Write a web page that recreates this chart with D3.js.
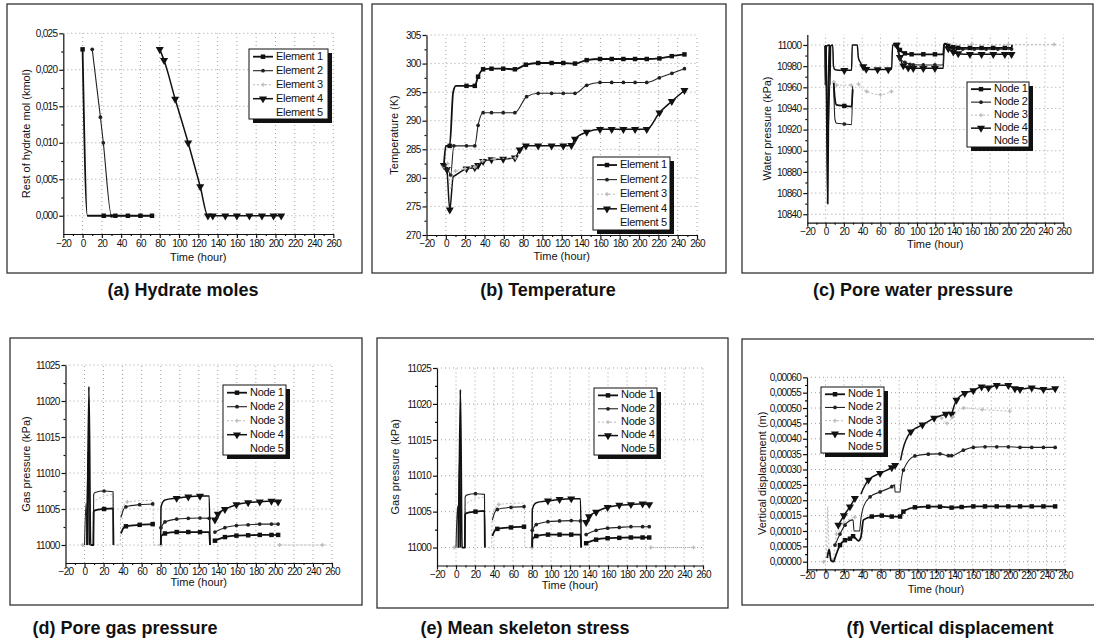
<!DOCTYPE html>
<html lang="en">
<head>
  <meta charset="UTF-8">
  <title>Hydrate dissociation results</title>
  <style>
    body { margin: 0; background: #fff; }
    svg { display: block; }
  </style>
</head>
<body>
  <svg id="svg" width="1094" height="644"></svg>

  <script src="https://d3js.org/d3.v7.min.js"></script>
  <script>
    // ---- axis ticks ----
    const timeTicks = [-20, 0, 20, 40, 60, 80, 100, 120, 140, 160, 180, 200, 220, 240, 260]
    const timeMinor = [-10, 10, 30, 50, 70, 90, 110, 130, 150, 170, 190, 210, 230, 250]
    const hydrateTicks = [0, 0.005, 0.01, 0.015, 0.02, 0.025]
    const hydrateMinor = [0.0025, 0.0075, 0.0125, 0.0175, 0.0225]
    const tempTicks = [270, 275, 280, 285, 290, 295, 300, 305]
    const tempMinor = [272.5, 277.5, 282.5, 287.5, 292.5, 297.5, 302.5]
    const waterTicks = [10840, 10860, 10880, 10900, 10920, 10940, 10960, 10980, 11000]
    const waterMinor = [10850, 10870, 10890, 10910, 10930, 10950, 10970, 10990]
    const gasTicks = [11000, 11005, 11010, 11015, 11020, 11025]
    const gasMinor = [11002.5, 11007.5, 11012.5, 11017.5, 11022.5]
    const dispTicks = [0, 0.00005, 0.0001, 0.00015, 0.0002, 0.00025, 0.0003, 0.00035, 0.0004, 0.00045, 0.0005, 0.00055, 0.0006]
    const dispMinor = [0.000025, 0.000075, 0.000125, 0.000175, 0.000225, 0.000275, 0.000325, 0.000375, 0.000425, 0.000475, 0.000525, 0.000575]

    const elementNames = ['Element 1', 'Element 2', 'Element 3', 'Element 4', 'Element 5']
    const nodeNames = ['Node 1', 'Node 2', 'Node 3', 'Node 4', 'Node 5']

    // ---- (a) rest of hydrate mol, [hour, kmol] ----
    const hydE1 = [[0, 0.0228], [5, 0], [7, 0], [22, 0], [34, 0], [47, 0], [60, 0], [72, 0]]
    const hydE2 = [[10, 0.0228], [18.5, 0.0135], [21.5, 0.01], [30, 0], [34, 0], [47, 0], [60, 0], [72, 0]]
    const hydE3 = []
    const hydE4 = [[80, 0.0228], [84.5, 0.0213], [96, 0.016], [109.5, 0.01], [122, 0.004], [130, 0], [135, 0], [148, 0], [160, 0], [173, 0], [186, 0], [198, 0], [206, 0]]
    const hydE5 = []

    // ---- (b) temperature, [hour, K] ----
    const tempE1 = [[-2, 282.2], [0, 285.6], [4, 285.6], [7.6, 295], [10.4, 296.1], [21.4, 296.1], [30, 296.1], [33.4, 297.7], [38.6, 299], [47.3, 299.1], [59.4, 299.1], [71.5, 299], [82.9, 299.8], [95.6, 300.1], [109.5, 300.1], [121.6, 300.1], [133.7, 300], [145.8, 300.6], [159.6, 300.8], [171.7, 300.8], [183.8, 300.8], [195.9, 300.8], [208, 300.8], [221.1, 300.9], [233.9, 301.3], [247, 301.6]]
    const tempE2 = [[-2, 282.2], [2, 281.5], [5, 280.5], [8.3, 285.6], [21.4, 285.6], [30, 285.6], [33.4, 289.2], [38.6, 291.4], [47.3, 291.4], [59.4, 291.4], [71.5, 291.4], [83.6, 294.2], [95.6, 294.8], [109.5, 294.8], [121.6, 294.8], [133.7, 294.8], [145.8, 296.2], [159.6, 296.7], [171.7, 296.7], [183.8, 296.7], [195.9, 296.7], [208, 296.7], [221, 297.5], [234, 298.3], [247, 299.1]]
    const tempE3 = [[-2, 282], [2, 282.5], [5, 278], [7, 280.5], [10, 281.2], [20, 281.6], [30, 281.9], [38, 283], [50, 283.3], [72, 283.5]]
    const tempE4 = [[-2, 282.2], [1, 281.5], [4.1, 274.4], [7.6, 280.2], [10.4, 280.5], [21.4, 281.6], [30, 281.8], [33.4, 282.2], [38.6, 282.9], [47.3, 283.2], [59.4, 283.3], [71.5, 283.5], [76.5, 284.9], [82.9, 285.6], [95.6, 285.6], [109.5, 285.6], [121.6, 285.6], [130, 285.7], [133.7, 286.8], [145.8, 288], [159.6, 288.5], [171.7, 288.5], [183.8, 288.5], [195.9, 288.5], [208, 288.5], [221.1, 291.4], [233.9, 293.4], [247, 295.3]]
    const tempE5 = []

    // ---- (c) pore water pressure, [hour, kPa] ----
    const waterN1 = [[0, 11000], [1, 10962], [2.3, 10850], [3.3, 10962], [4.2, 11000], null,
      [8.9, 10964], [10.2, 10949], [12, 10943.3], [20.5, 10942.4], [28.4, 10941.8], [29.6, 10958], null,
      [77.7, 11000], [81.3, 10995.3], [86.8, 10992.1], [94.1, 10991.2], [106.9, 10991.2], [119.6, 10991.2], [128.7, 10991.2], [129.5, 11000],
      [130.6, 11001.3], [134.2, 10999.1], [139.7, 10997.9], [145.1, 10997.3], [157.9, 10997.2], [170.6, 10997.2], [183.4, 10997.2], [196.1, 10997.2], [203.4, 10997.2], [204, 11000]]
    const waterN2 = [[0.5, 11000], [1.8, 10905], [3, 10920], [4.5, 10962], null,
      [8.9, 10961], [10.2, 10930], [12, 10926], [20.5, 10925.3], [28.4, 10924.7], [29.6, 10961], null,
      [77.7, 11000], [81.3, 10987.2], [86.8, 10983.6], [92.3, 10981.7], [95.9, 10981.2], [106.9, 10981.1], [119.6, 10981.1], [128.7, 10981.1], [129.5, 11000],
      [130.6, 11001.3], [134.2, 10997.8], [139.7, 10996.2], [150, 10996.1], [162.8, 10996.1], [175.6, 10996.1], [188.4, 10996.1], [203.4, 10996.1]]
    const waterN3 = [[9, 10965], [12, 10962], [28, 10962], null,
      [36, 10963], [45, 10956], [60, 10953], [72, 10956], null,
      [133, 11001], [160, 11000.5], [200, 11000.5], [250, 11000.5]]
    const waterN4 = [[-0.7, 10999], [-0.5, 10962], [1, 10999], [4.5, 11000], [4.8, 10962], [5.5, 10999], [7.8, 11000],
      [8.6, 10980], [10, 10977], [12, 10976.4], [20.5, 10976.1], [28.4, 10976], [29.2, 11000], [34.7, 11000],
      [35.8, 10988.3], [37.6, 10984.2], [41.2, 10979.6], [44.4, 10977.1], [56.9, 10976.8], [68.6, 10976.8], [72.2, 10977.1], [73.3, 11000], [77.7, 11000],
      [81.3, 10988.3], [85, 10980.4], [90.4, 10978.3], [95.9, 10978], [106.9, 10978], [119.6, 10978], [128.7, 10978], [129.5, 11000],
      [130.6, 11001.3], [134.2, 10996.6], [139.7, 10993.4], [145.1, 10991.8], [157.9, 10991.2], [170.6, 10991.2], [183.4, 10991.2], [196.1, 10991.2], [203.4, 10991.2]]
    const waterN5 = []

    // ---- (d)/(e) gas pressure, [hour, kPa] ----
    const gasN1 = [[2.9, 11000], [4.6, 11022], [6.3, 11000], [9.3, 11000],
      [9.6, 11004.6], [11, 11004.8], [20.5, 11005], [30, 11005.1], [30.4, 11000], null,
      [38.3, 11001.6], [40.5, 11002.3], [43.5, 11002.6], [57.9, 11002.8], [71.6, 11002.9], null,
      [80.2, 11000], [80.5, 11001.2], [84.5, 11001.6], [96.8, 11001.8], [109, 11001.8], [121.3, 11001.8], [131, 11001.8], [131.8, 11000], null,
      [137, 11000.6], [147.5, 11001.1], [159.6, 11001.3], [171.9, 11001.35], [184.1, 11001.4], [196.4, 11001.4], [203.4, 11001.4]]
    const gasN2 = [[0, 11000], [1.6, 11005.8], [2.6, 11000], null,
      [9.3, 11000], [9.6, 11007], [11, 11007.3], [20.5, 11007.5], [30, 11007.4], [30.3, 11000], null,
      [38.3, 11003.8], [40.5, 11004.8], [43.5, 11005.3], [57.9, 11005.6], [71.6, 11005.7], null,
      [80.3, 11002.4], [84.5, 11003.2], [96.8, 11003.6], [109, 11003.7], [121.3, 11003.75], [131, 11003.7], null,
      [137, 11001.8], [147.5, 11002.4], [159.6, 11002.7], [171.9, 11002.8], [184.1, 11002.9], [196.4, 11002.9], [203.4, 11002.9]]
    const gasN3 = [[-2, 11000], [9, 11000], [9.5, 11006], [30, 11007], [30.5, 11000], [37.5, 11000],
      [38, 11004.5], [45, 11006], [72, 11006.2], [72.5, 11000], [80, 11000], null,
      [205, 11000], [250, 11000]]
    const gasN4 = [[2.5, 11000], [3.8, 11013], [5, 11000], null,
      [80, 11000], [80.3, 11005.2], [82, 11005.9], [84.5, 11006.25], [96.8, 11006.5], [109, 11006.7], [121.3, 11006.8], [131, 11006.8], [131.8, 11000], null,
      [137, 11003.5], [140, 11004.3], [147.5, 11004.95], [159.6, 11005.6], [171.9, 11005.9], [184.1, 11006], [196.4, 11006.1], [203.4, 11006]]
    const gasN5 = []

    // ---- (f) vertical displacement, [hour, m] ----
    const dispN1 = [[2, 0.000012], [4, 0.00004], [6, 0.000004], [9, 0], [10.4, 0.0000125], [15.8, 0.000054], [21.2, 0.00007], [26.6, 0.000075], [30, 0.000083], [33, 0.000075], [35.8, 0.000068], [38.5, 0.00008], [41.3, 0.000136], [50.3, 0.000147], [61.2, 0.00015], [72, 0.000147], [81, 0.000147], [84.6, 0.000163], [97.1, 0.000177], [111.6, 0.000179], [124.3, 0.000179], [136.9, 0.000176], [147.8, 0.000178], [160.5, 0.00018], [173.2, 0.00018], [185.9, 0.00018], [198.5, 0.00018], [211.2, 0.00018], [223.9, 0.00018], [236.6, 0.00018], [249.3, 0.00018]]
    const dispN2 = [[10.4, 0.000054], [15.8, 0.00009], [21.2, 0.000119], [30, 0.000136], [31, 0.0001], [37, 0.0001], [38.5, 0.00014], [41.3, 0.000179], [48.5, 0.000211], [59.3, 0.000227], [72, 0.000244], [75, 0.00025], [75.6, 0.000227], [81, 0.000227], [81.5, 0.000244], [84.6, 0.000298], [97.1, 0.000344], [111.6, 0.00035], [124.3, 0.000351], [133.4, 0.000345], [136.9, 0.000345], [149.6, 0.000363], [160.5, 0.000372], [173.2, 0.000374], [185.9, 0.000374], [198.5, 0.000374], [211.2, 0.000372], [223.9, 0.000372], [236.6, 0.000372], [249.3, 0.000372]]
    const dispN3 = [[-2, 0], [1, 0.00002], [2.5, 0.00018], [4, 0.00003], [8, 0.000005], [12, 0.00009], [20, 0.000125], [32, 0.000145], null,
      [126, 0.000468], [132, 0.00045], [138, 0.00047], [150, 0.0005], [170, 0.000495], [200, 0.00049]]
    const dispN4 = [[14, 0.000119], [20, 0.00015], [26.6, 0.000179], [32, 0.000206], null,
      [38.5, 0.00022], [41.3, 0.000239], [46.7, 0.000266], [59.3, 0.000288], [72, 0.000306], [75.6, 0.000314], null,
      [81.5, 0.00033], [83.6, 0.00036], [92.7, 0.000423], [105.3, 0.000445], [118, 0.000467], [130.7, 0.00048], null,
      [137, 0.00048], [142.2, 0.000526], [151.2, 0.000548], [160.5, 0.000557], [169.5, 0.000569], [177, 0.000566], [185.9, 0.000574], [198.5, 0.000574], [205.6, 0.000563], [211.2, 0.000561], [223.9, 0.000566], [236.6, 0.000561], [249.3, 0.000563]]
    const dispN5 = []

    // line / marker look of series 1..5 (same in every panel)
    const seriesStyle = [
      { stroke: '#111', width: 1.8, dash: null, symbol: d3.symbolSquare, size: 20, fill: '#111' },
      { stroke: '#222', width: 1.1, dash: null, symbol: d3.symbolCircle, size: 11, fill: '#222' },
      { stroke: '#bbb', width: 1, dash: '2,2', symbol: d3.symbolCross, size: 9, fill: '#bbb' },
      { stroke: '#111', width: 1.5, dash: null, symbol: d3.symbolTriangle, size: 28, fill: '#111', flip: true },
      { stroke: 'none', width: 0, dash: null, symbol: null, size: 0, fill: 'none' }
    ]

    const FONT = "'Liberation Sans', Arial, sans-serif"
    const comma = p => { const f = d3.format('.' + p + 'f'); return d => f(d).replace('.', ',') }

    const panels = [
      { frame: [7, 4, 362, 273], xr: [63.3, 333.3], yd: [-0.0025, 0.025], yr: [234, 33.3],
        yTicks: hydrateTicks, yMinor: hydrateMinor, fmt: comma(3), tickPad: 2,
        yTitle: 'Rest of hydrate mol (kmol)', yTitleX: 27, xTitleY: 258,
        legend: [249, 49, 79, 70], names: elementNames,
        series: [hydE1, hydE2, hydE3, hydE4, hydE5],
        caption: '(a) Hydrate moles', capX: 183, capY: 296 },
      { frame: [372, 4, 726, 273], xr: [426.5, 697], yd: [270, 305], yr: [235, 35],
        yTicks: tempTicks, yMinor: tempMinor, fmt: d3.format('d'), tickPad: 1,
        yTitle: 'Temperature (K)', yTitleX: 395, xTitleY: 257,
        legend: [593, 157, 77, 73], names: elementNames,
        series: [tempE1, tempE2, tempE3, tempE4, tempE5],
        caption: '(b) Temperature', capX: 548, capY: 296 },
      { frame: [742, 4, 1093, 273], xr: [807.3, 1063.3], yd: [10832, 11010], yr: [222.7, 34.4],
        yTicks: waterTicks, yMinor: waterMinor, fmt: d3.format('d'), tickPad: 1,
        yTitle: 'Water pressure (kPa)', yTitleX: 768, xTitleY: 245,
        legend: [967, 82, 62, 65], names: nodeNames,
        series: [waterN1, waterN2, waterN3, waterN4, waterN5],
        caption: '(c) Pore water pressure', capX: 913, capY: 296 },
      { frame: [10, 338, 362, 605], xr: [65.5, 332], yd: [10997.5, 11025], yr: [563, 365],
        yTicks: gasTicks, yMinor: gasMinor, fmt: d3.format('d'), tickPad: 1,
        yTitle: 'Gas pressure (kPa)', yTitleX: 27, xTitleY: 583,
        legend: [223, 385, 63, 70], names: nodeNames,
        series: [gasN1, gasN2, gasN3, gasN4, gasN5],
        caption: '(d) Pore gas pressure', capX: 125, capY: 634 },
      { frame: [377, 338, 728, 608], xr: [437, 703], yd: [10997.5, 11025], yr: [565.5, 368],
        yTicks: gasTicks, yMinor: gasMinor, fmt: d3.format('d'), tickPad: 1,
        yTitle: 'Gas pressure (kPa)', yTitleX: 396, xTitleY: 586,
        legend: [594, 388, 63, 67], names: nodeNames,
        series: [gasN1, gasN2, gasN3, gasN4, gasN5],
        caption: '(e) Mean skeleton stress', capX: 525, capY: 634 },
      { frame: [742, 339, 1100, 605], xr: [807, 1065], yd: [-0.000025, 0.0006], yr: [569.4, 377.3],
        yTicks: dispTicks, yMinor: dispMinor, fmt: comma(5), tickPad: -1,
        yTitle: 'Vertical displacement (m)', yTitleX: 763, xTitleY: 590,
        legend: [821, 387, 63, 66], names: nodeNames,
        series: [dispN1, dispN2, dispN3, dispN4, dispN5],
        caption: '(f) Vertical displacement', capX: 950, capY: 634 }
    ]

    const svg = d3.select('#svg').style('font-family', FONT)

    // markers sit on sampled points, not on the step corners
    function hasRoom(s, k) {
      const d = s[k], prev = s[k - 1], next = s[k + 1]
      return (!prev || d[0] - prev[0] >= 3) && (!next || next[0] - d[0] >= 3)
    }

    function drawMarkers(g, pts, st) {
      g.selectAll(null)
        .data(pts)
        .enter()
        .append('path')
        .attr('d', d3.symbol(st.symbol, st.size))
        .attr('transform', d => `translate(${d[0]},${d[1]})` + (st.flip ? ' rotate(180)' : ''))
        .attr('fill', st.fill)
        .attr('stroke', 'none')
    }

    function drawPanel(p) {
      const g = svg.append('g')
      const [fx0, fy0, fx1, fy1] = p.frame

      g.append('rect')
        .attr('x', fx0).attr('y', fy0)
        .attr('width', fx1 - fx0).attr('height', fy1 - fy0)
        .attr('fill', 'none').attr('stroke', '#333').attr('stroke-width', 1.3)

      const x = d3.scaleLinear().domain([-20, 260]).range(p.xr)
      const y = d3.scaleLinear().domain(p.yd).range(p.yr)
      const bottom = p.yr[0], top = p.yr[1], left = p.xr[0], right = p.xr[1]

      // dotted grid
      g.append('g').selectAll('line')
        .data(timeTicks.filter(t => t > -20))
        .enter().append('line')
        .attr('x1', d => x(d)).attr('x2', d => x(d))
        .attr('y1', bottom).attr('y2', top)
        .attr('stroke', '#8a8a8a').attr('stroke-width', 0.8).attr('stroke-dasharray', '1,3')
      g.append('g').selectAll('line')
        .data(p.yTicks.filter(v => y(v) < bottom - 1))
        .enter().append('line')
        .attr('x1', left).attr('x2', right)
        .attr('y1', d => y(d)).attr('y2', d => y(d))
        .attr('stroke', '#8a8a8a').attr('stroke-width', 0.8).attr('stroke-dasharray', '1,3')

      // series, drawn from 5 down to 1 so Node/Element 1 is on top
      for (let i = p.series.length - 1; i >= 0; i--) {
        const s = p.series[i], st = seriesStyle[i]
        if (!s.length || st.stroke === 'none') continue
        const line = d3.line()
          .defined(d => d !== null)
          .x(d => x(d[0]))
          .y(d => y(d[1]))
          .curve(d3.curveMonotoneX)
        g.append('path')
          .datum(s)
          .attr('d', line)
          .attr('fill', 'none')
          .attr('stroke', st.stroke)
          .attr('stroke-width', st.width)
          .attr('stroke-dasharray', st.dash)
          .attr('stroke-linejoin', 'round')
        const pts = s.map((d, k) => (d && hasRoom(s, k)) ? [x(d[0]), y(d[1])] : null).filter(d => d)
        drawMarkers(g, pts, st)
      }

      // axes
      const styleAxis = sel => {
        sel.selectAll('path, line').attr('stroke', '#111').attr('stroke-width', 1.2)
        sel.selectAll('text')
          .attr('fill', '#111')
          .style('font-family', FONT)
          .style('font-size', '10px')
          .style('letter-spacing', '-0.7px')
      }
      g.append('g')
        .attr('transform', `translate(0,${bottom})`)
        .call(d3.axisBottom(x).tickValues(timeTicks).tickSize(4).tickSizeOuter(0).tickPadding(p.tickPad).tickFormat(d3.format('d')))
        .call(styleAxis)
      g.append('g')
        .attr('transform', `translate(0,${bottom})`)
        .call(d3.axisBottom(x).tickValues(timeMinor).tickSize(2).tickFormat(''))
        .call(styleAxis)
        .select('.domain').remove()
      g.append('g')
        .attr('transform', `translate(${left},0)`)
        .call(d3.axisLeft(y).tickValues(p.yTicks).tickSize(4).tickSizeOuter(0).tickPadding(2).tickFormat(p.fmt))
        .call(styleAxis)
      g.append('g')
        .attr('transform', `translate(${left},0)`)
        .call(d3.axisLeft(y).tickValues(p.yMinor).tickSize(2).tickFormat(''))
        .call(styleAxis)
        .select('.domain').remove()

      // axis titles
      g.append('text')
        .text('Time (hour)')
        .attr('x', x(120)).attr('y', p.xTitleY)
        .attr('text-anchor', 'middle').attr('dominant-baseline', 'middle')
        .style('font-size', '11px').attr('fill', '#111')
      g.append('text')
        .text(p.yTitle)
        .attr('transform', `translate(${p.yTitleX},${(bottom + top) / 2}) rotate(-90)`)
        .attr('text-anchor', 'middle').attr('dominant-baseline', 'middle')
        .style('font-size', '11px').attr('fill', '#111')

      // legend with drop shadow
      const [lx, ly, lw, lh] = p.legend
      const lg = g.append('g').attr('transform', `translate(${lx},${ly})`)
      lg.append('rect').attr('x', 4).attr('y', 4).attr('width', lw).attr('height', lh).attr('fill', '#111')
      lg.append('rect').attr('width', lw).attr('height', lh).attr('fill', '#fff').attr('stroke', '#111').attr('stroke-width', 1)
      p.names.forEach((name, i) => {
        const st = seriesStyle[i]
        const ry = lh * (i + 0.55) / 5
        if (st.stroke !== 'none') {
          lg.append('line')
            .attr('x1', 4).attr('x2', 24).attr('y1', ry).attr('y2', ry)
            .attr('stroke', st.stroke).attr('stroke-width', st.width).attr('stroke-dasharray', st.dash)
          drawMarkers(lg, [[14, ry]], st)
        }
        lg.append('text')
          .text(name)
          .attr('x', 27).attr('y', ry)
          .attr('dominant-baseline', 'middle')
          .style('font-size', '11px').style('letter-spacing', '-0.3px')
          .attr('fill', '#111')
      })

      // caption under the panel
      svg.append('text')
        .text(p.caption)
        .attr('x', p.capX).attr('y', p.capY)
        .attr('text-anchor', 'middle')
        .style('font-size', '18px')
        .style('font-weight', 'bold')
        .attr('fill', '#111')
    }

    panels.forEach(drawPanel)
  </script>
</body>
</html>
